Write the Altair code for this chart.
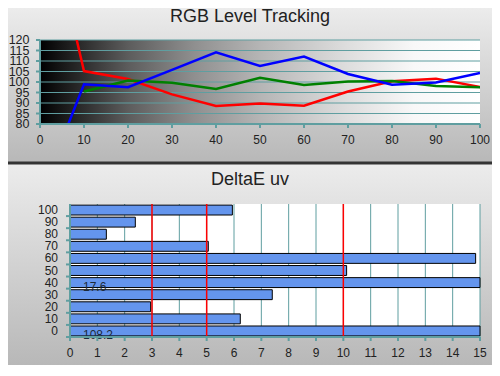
import altair as alt
import pandas as pd

# ---------------- data ----------------
rgb_levels = [5, 10, 20, 30, 40, 50, 60, 70, 80, 90, 100]
red_vals = [150.0, 105.2, 101.4, 94.1, 88.6, 89.8, 88.7, 95.5, 100.4, 101.6, 97.6]
blue_vals = [72.4, 98.9, 97.5, 105.8, 114.1, 107.6, 112.1, 103.8, 98.7, 99.8, 104.3]
green_levels = [10, 20, 30, 40, 50, 60, 70, 80, 90, 100]
green_vals = [95.5, 100.7, 99.6, 96.7, 102.0, 98.6, 100.2, 100.5, 98.1, 97.5]

rgb_x_ticks = [0, 10, 20, 30, 40, 50, 60, 70, 80, 90, 100]
rgb_y_ticks = [80, 85, 90, 95, 100, 105, 110, 115, 120]

de_levels = [0, 10, 20, 30, 40, 50, 60, 70, 80, 90, 100]
de_vals = [108.2, 6.23, 2.95, 7.4, 17.6, 10.12, 14.84, 5.06, 1.33, 2.39, 5.94]
de_limits = [3, 5, 10]
de_x_ticks = list(range(0, 16))

titles = ["RGB Level Tracking", "DeltaE uv"]

# ---------------- styling ----------------
TEAL = "#5f9ea0"
FONT = "Liberation Sans"
LABEL = "#222222"
panel_grad = alt.LinearGradient(
    gradient="linear", x1=0, x2=0, y1=0, y2=1,
    stops=[alt.GradientStop(color="#ececec", offset=0),
           alt.GradientStop(color="#b8b8b8", offset=1)])
plot_grad = alt.LinearGradient(
    gradient="linear", x1=0, x2=1, y1=0, y2=0,
    stops=[alt.GradientStop(color="#000000", offset=0),
           alt.GradientStop(color="#2e2e2e", offset=0.1),
           alt.GradientStop(color="#5c5c5c", offset=0.2),
           alt.GradientStop(color="#8f8f8f", offset=0.35),
           alt.GradientStop(color="#b5b5b5", offset=0.5),
           alt.GradientStop(color="#dedede", offset=0.7),
           alt.GradientStop(color="#f8f8f8", offset=0.85),
           alt.GradientStop(color="#ffffff", offset=1)])

one = pd.DataFrame({"k": [0]})

# ---------------- top panel ----------------
lines_df = pd.concat([
    pd.DataFrame({"level": rgb_levels, "value": red_vals, "ch": "Red"}),
    pd.DataFrame({"level": green_levels, "value": green_vals, "ch": "Green"}),
    pd.DataFrame({"level": rgb_levels, "value": blue_vals, "ch": "Blue"}),
])
tx_df = pd.DataFrame({"t": rgb_x_ticks})
ty_df = pd.DataFrame({"t": rgb_y_ticks})

tx_scale = alt.Scale(domain=[0, 100], nice=False)
ty_scale = alt.Scale(domain=[80, 120], nice=False, zero=False)


def TX(v):
    if isinstance(v, str):
        return alt.X(v, scale=tx_scale, axis=None)
    return alt.X(datum=v, type="quantitative", scale=tx_scale, axis=None)


def TY(v):
    if isinstance(v, str):
        return alt.Y(v, scale=ty_scale, axis=None)
    return alt.Y(datum=v, type="quantitative", scale=ty_scale, axis=None)


top_panel = alt.Chart(one).mark_rect(fill=panel_grad).encode(
    x=alt.value(-32), x2=alt.value(452), y=alt.value(-32), y2=alt.value(121.5))

top_title = alt.Chart(one).mark_text(
    text=titles[0], fontSize=18, font=FONT, color=LABEL,
    align="center", baseline="top").encode(
    x=alt.value(210), y=alt.value(-32))

top_plotbg = alt.Chart(one).mark_rect(fill=plot_grad).encode(
    x=TX(0), x2=alt.X2(datum=100), y=TY(80), y2=alt.Y2(datum=120))

top_grid = alt.Chart(ty_df).mark_rule(color=TEAL, strokeWidth=1).encode(y=TY("t:Q"))

top_lines = alt.Chart(lines_df).mark_line(strokeWidth=2.5, clip=True).encode(
    x=TX("level:Q"), y=TY("value:Q"),
    color=alt.Color("ch:N", scale=alt.Scale(domain=["Red", "Green", "Blue"],
                                            range=["#ff0000", "#008000", "#0000ff"]),
                    legend=None),
    detail="ch:N")

# hand-drawn axes
top_ydom = alt.Chart(one).mark_rule(color=TEAL, strokeWidth=2).encode(x=TX(0))
top_xdom = alt.Chart(one).mark_rule(color=TEAL, strokeWidth=2).encode(y=TY(80))
top_yticks = alt.Chart(ty_df).mark_rule(color=TEAL, strokeWidth=2, x2Offset=-4).encode(
    x=TX(0), x2=alt.X2(datum=0), y=TY("t:Q"))
top_xticks = alt.Chart(tx_df).mark_rule(color=TEAL, strokeWidth=2, y2Offset=4).encode(
    x=TX("t:Q"), y=TY(80), y2=alt.Y2(datum=80))
top_ylab = alt.Chart(ty_df).mark_text(
    align="right", baseline="middle", dx=-10.5, fontSize=12.5, font=FONT,
    color=LABEL).encode(x=TX(0), y=TY("t:Q"), text="t:Q")
top_xlab = alt.Chart(tx_df).mark_text(
    align="center", baseline="middle", dy=15.5, fontSize=12, font=FONT,
    color=LABEL).encode(x=TX("t:Q"), y=TY(80), text="t:Q")

top = alt.layer(top_panel, top_title, top_plotbg, top_grid, top_lines,
                top_ydom, top_xdom, top_yticks, top_xticks, top_ylab, top_xlab
                ).properties(width=440, height=84)

# ---------------- bottom panel ----------------
de_df = pd.DataFrame({"level": de_levels, "v": de_vals})
bx_df = pd.DataFrame({"t": de_x_ticks})

bx_scale = alt.Scale(domain=[0, 15], range=[30, 440], nice=False, clamp=True)
by_scale = alt.Scale(paddingInner=0.18, paddingOuter=0.09)
BAND_HALF = 133 / 11 / 2


def BX(v):
    if isinstance(v, str):
        return alt.X(v, scale=bx_scale, axis=None)
    return alt.X(datum=v, type="quantitative", scale=bx_scale, axis=None)


BY = alt.Y("level:O", sort="descending", scale=by_scale, axis=None)

bot_panel = alt.Chart(one).mark_rect(fill=panel_grad).encode(
    x=alt.value(-32), x2=alt.value(452), y=alt.value(-39.5), y2=alt.value(161))

bot_title = alt.Chart(one).mark_text(
    text=titles[1], fontSize=18, font=FONT, color=LABEL,
    align="center", baseline="alphabetic").encode(
    x=alt.value(210), y=alt.value(-19))

bot_plotbg = alt.Chart(one).mark_rect(fill="#ffffff").encode(
    x=BX(0), x2=alt.X2(datum=15))

bot_grid = alt.Chart(bx_df).mark_rule(color=TEAL, strokeWidth=1).encode(x=BX("t:Q"))

bars = alt.Chart(de_df).mark_bar(fill="#6495ed", stroke="#000000", strokeWidth=1).encode(
    x=BX("v:Q"), y=BY)

limits = alt.Chart(pd.DataFrame({"lim": de_limits})).mark_rule(
    color="#ff0000", strokeWidth=1.5).encode(x=BX("lim:Q"))

labels = alt.Chart(de_df).transform_filter(alt.datum.v > 15).mark_text(
    align="left", baseline="middle", dx=13, dy=4, fontSize=12, font=FONT,
    color="#1c2b3a").encode(
    x=BX(0), y=BY, text=alt.Text("v:Q", format=".1f"))

bot_ydom = alt.Chart(one).mark_rule(color=TEAL, strokeWidth=2).encode(x=BX(0))
bot_xdom = alt.Chart(one).mark_rule(color=TEAL, strokeWidth=2).encode(
    x=BX(0), x2=alt.X2(datum=15), y=alt.value(133))
bot_yticks = alt.Chart(de_df).mark_rule(
    color=TEAL, strokeWidth=2, x2Offset=-4, yOffset=BAND_HALF).encode(
    x=BX(0), x2=alt.X2(datum=0), y=BY)
bot_xticks = alt.Chart(bx_df).mark_rule(color=TEAL, strokeWidth=2).encode(
    x=BX("t:Q"), y=alt.value(133), y2=alt.value(137))
bot_ylab = alt.Chart(de_df).mark_text(
    align="right", baseline="middle", dx=-12, fontSize=12, font=FONT,
    color=LABEL).encode(x=BX(0), y=BY, text="level:O")
bot_xlab = alt.Chart(bx_df).mark_text(
    align="center", baseline="middle", fontSize=12, font=FONT,
    color=LABEL).encode(x=BX("t:Q"), y=alt.value(149), text="t:Q")

bottom = alt.layer(bot_panel, bot_title, bot_plotbg, bot_grid, bars, limits, labels,
                   bot_ydom, bot_xdom, bot_yticks, bot_xticks, bot_ylab, bot_xlab
                   ).properties(width=440, height=133)

chart = alt.vconcat(top, bottom, spacing=2, bounds="full").properties(
    background="#333333",
    padding={"left": 0, "top": 0, "right": 0, "bottom": 0},
).configure_view(strokeWidth=0)

chart.save("out.html", embed_options={"renderer": "svg", "actions": False})
